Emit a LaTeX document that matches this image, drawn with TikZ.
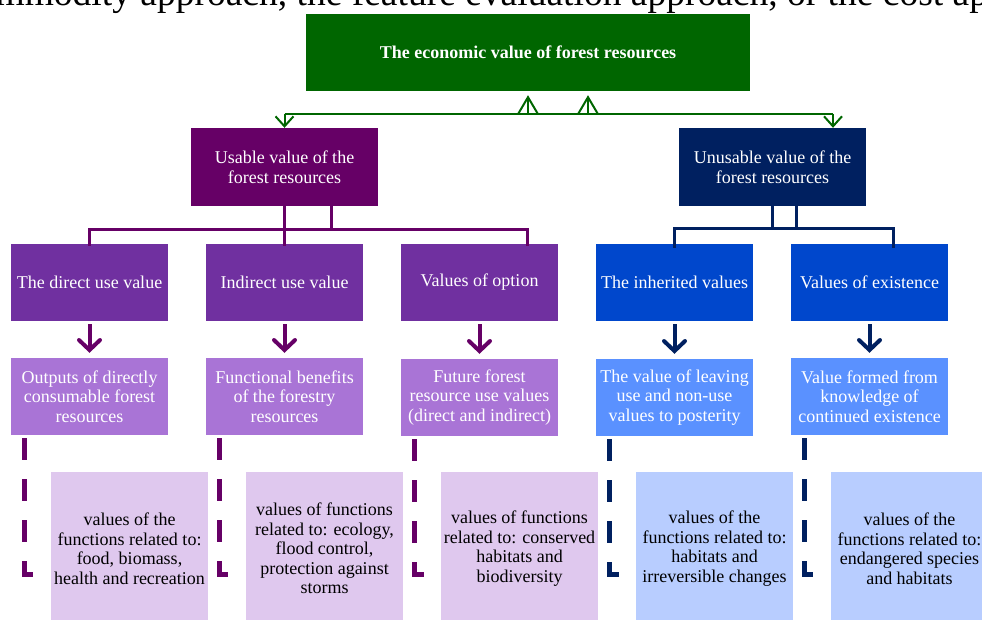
\documentclass[tikz,border=0pt]{standalone}
\usepackage{fontspec}
\setmainfont{Liberation Serif}
\usepackage{xcolor}
\definecolor{forestgreen}{RGB}{0, 102, 0}
\definecolor{usepurple}{RGB}{102, 0, 102}
\definecolor{nonusenavy}{RGB}{0, 32, 96}
\definecolor{midpurple}{RGB}{112, 48, 160}
\definecolor{midblue}{RGB}{0, 71, 204}
\definecolor{lightpurple}{RGB}{169, 116, 214}
\definecolor{lightblue}{RGB}{90, 145, 255}
\definecolor{palepurple}{RGB}{223, 200, 238}
\definecolor{paleblue}{RGB}{184, 205, 255}
\usetikzlibrary{arrows.meta, calc}

\tikzset{
    valuebox/.style={inner sep=0pt, minimum width=157pt, minimum height=77pt, align=center,
        text=white, font=\fontsize{18}{19.5}\selectfont},
    notebox/.style={valuebox, minimum height=153pt, text=black},
    greenline/.style={forestgreen, line width=2pt},
    upbarb/.style={-{Straight Barb[length=17pt, width=20pt]}},
    downbarb/.style={-{Straight Barb[length=10pt, width=18pt]}},
    treeline/.style={line width=3pt},
    downarrow/.style={line width=4pt, -{Straight Barb[length=10pt, width=21pt, line cap=round]}, shorten <=3pt, shorten >=5pt},
    noteline/.style={line width=5pt, dash pattern=on 22pt off 19pt},
}

\begin{document}
\begin{tikzpicture}[x=1pt, y=-1pt]
    \useasboundingbox (0,0) rectangle (982,619);

    % cut-off line of the page text
    \node[anchor=base west, inner sep=0pt, font=\fontsize{37.5}{40}\selectfont] (pagetext) at (-40,5)
        {commodity approach, the feature evaluation approach, or the cost approach};

    % top level
    \node[valuebox, fill=forestgreen, minimum width=444pt, font=\bfseries\fontsize{18}{19.5}\selectfont] (econ) at (528,52.5)
        {The economic value of forest resources};
    \node[valuebox, fill=usepurple, minimum width=187pt, minimum height=78pt] (usable) at (284.5,167)
        {Usable value of the\\forest resources};
    \node[valuebox, fill=nonusenavy, minimum width=187pt, minimum height=78pt] (unusable) at (772.5,167)
        {Unusable value of the\\forest resources};

    \draw[greenline] ([yshift=14pt]usable.north) -- ([xshift=60.5pt, yshift=14pt]unusable.north);
    \draw[greenline, downbarb] ([yshift=14pt]usable.north) -- (usable.north);
    \draw[greenline, downbarb] ([xshift=60.5pt, yshift=14pt]unusable.north) -- ([xshift=60.5pt]unusable.north);
    \draw[greenline, upbarb] ([yshift=-23pt]econ.south) -- ([yshift=-4pt]econ.south);
    \draw[greenline, upbarb] ([xshift=60pt, yshift=-23pt]econ.south) -- ([xshift=60pt, yshift=-4pt]econ.south);

    % kinds of value
    \node[valuebox, fill=midpurple] (direct) at (89.5,282.5) {The direct use value};
    \node[valuebox, fill=midpurple] (indirect) at (284.5,282.5) {Indirect use value};
    \node[valuebox, fill=midpurple] (option) at (479.5,282.5) {\strut Values of option};
    \node[valuebox, fill=midblue] (inherited) at (674.5,282.5) {The inherited values};
    \node[valuebox, fill=midblue] (existence) at (869.5,282.5) {Values of existence};

    \draw[treeline, usepurple] (usable.south) -- ([yshift=-24pt]usable.south) -- ([yshift=-2pt]indirect.north);
    \draw[treeline, usepurple] ([xshift=47pt]usable.south) -- ([xshift=47pt, yshift=-24pt]usable.south);
    \draw[treeline, usepurple] ([yshift=-2pt]direct.north) |- ([xshift=48pt, yshift=14pt]option.north)
        -- ([xshift=48pt, yshift=-2pt]option.north);
    \draw[treeline, nonusenavy] (unusable.south) -- ([yshift=-23pt]unusable.south);
    \draw[treeline, nonusenavy] ([xshift=24pt]unusable.south) -- ([xshift=24pt, yshift=-23pt]unusable.south);
    \draw[treeline, nonusenavy] ([yshift=-4pt]inherited.north) |- ([xshift=23.5pt, yshift=15pt]existence.north)
        -- ([xshift=23.5pt, yshift=-4pt]existence.north);

    % what each value means
    \node[valuebox, fill=lightpurple] (outputs) at (89.5,396.5) {Outputs of directly\\consumable forest\\resources};
    \node[valuebox, fill=lightpurple] (benefits) at (284.5,396.5) {Functional benefits\\of the forestry\\resources};
    \node[valuebox, fill=lightpurple] (future) at (479.5,397.5) {Future forest\\resource use values\\(direct and indirect)};
    \node[valuebox, fill=lightblue] (posterity) at (674.5,397.5) {The value of leaving\\use and non-use\\values to posterity};
    \node[valuebox, fill=lightblue] (knowledge) at (869.5,396.5) {Value formed from\\knowledge of\\continued existence};

    \draw[downarrow, usepurple] (direct) -- (outputs);
    \draw[downarrow, usepurple] (indirect) -- (benefits);
    \draw[downarrow, usepurple] (option) -- (future);
    \draw[downarrow, nonusenavy] (inherited) -- (posterity);
    \draw[downarrow, nonusenavy] (existence) -- (knowledge);

    % functions behind each value
    \node[notebox, fill=palepurple] (food) at (129.5,548.5)
        {values of the\\functions related to:\\food, biomass,\\health and recreation};
    \node[notebox, fill=palepurple] (ecology) at (324.5,548.5)
        {values of functions\\related to: ecology,\\flood control,\\protection against\\storms};
    \node[notebox, fill=palepurple] (habitats) at (519.5,548.5)
        {values of functions\\related to: conserved\\habitats and\\biodiversity};
    \node[notebox, fill=paleblue] (changes) at (714.5,548.5)
        {values of the\\functions related to:\\habitats and\\irreversible changes};
    \node[notebox, fill=paleblue] (species) at (909.5,548.5)
        {values of the\\functions related to:\\endangered species\\and habitats};

    \draw[noteline, usepurple] ([xshift=14pt, yshift=-3pt]outputs.south west) |- ([yshift=-103pt]food.north west);
    \draw[noteline, usepurple] ([xshift=14pt, yshift=-3pt]benefits.south west) |- ([yshift=-103pt]ecology.north west);
    \draw[noteline, usepurple] ([xshift=14pt, yshift=-3pt]future.south west) |- ([yshift=-103pt]habitats.north west);
    \draw[noteline, nonusenavy] ([xshift=14pt, yshift=-3pt]posterity.south west) |- ([yshift=-103pt]changes.north west);
    \draw[noteline, nonusenavy] ([xshift=14pt, yshift=-3pt]knowledge.south west) |- ([yshift=-103pt]species.north west);
\end{tikzpicture}
\end{document}
